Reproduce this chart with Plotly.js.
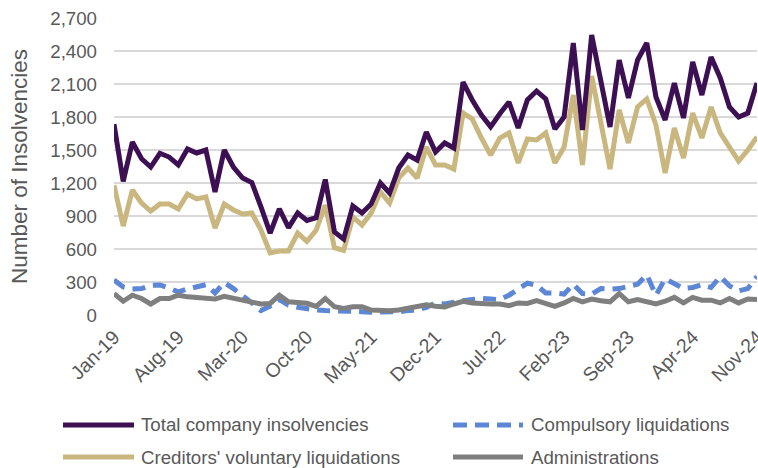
<!DOCTYPE html>
<html>
<head>
<meta charset="utf-8">
<script src="https://cdn.plot.ly/plotly-3.0.1.min.js"></script>
<style>html,body{margin:0;padding:0;background:#fff;}#chart{width:758px;height:468px;}</style>
</head>
<body>
<div id="chart"></div>
<script>
const months = ["Jan","Feb","Mar","Apr","May","Jun","Jul","Aug","Sep","Oct","Nov","Dec"];
const categories = [];
for (let y = 19; y <= 24; y++) { for (let m = 0; m < 12; m++) { categories.push(months[m] + "-" + y); } }
categories.length = 71; // Jan-19 .. Nov-24

const tickLabels = ["Jan-19","Aug-19","Mar-20","Oct-20","May-21","Dec-21","Jul-22","Feb-23","Sep-23","Apr-24","Nov-24"];

const totalInsolvencies = [1735,1215,1573,1420,1345,1470,1436,1364,1509,1473,1500,1118,1500,1345,1245,1205,982,745,964,795,927,860,885,1232,755,690,991,927,1010,1200,1109,1336,1455,1409,1664,1482,1564,1518,2118,1955,1818,1710,1830,1936,1700,1955,2036,1964,1690,1800,2473,1682,2545,2136,1709,2318,1973,2318,2473,1982,1773,2109,1791,2300,2000,2345,2155,1891,1800,1836,2109];

const compulsoryLiquidations = [318,255,236,240,270,273,245,210,236,255,275,200,295,240,180,110,40,80,140,90,70,55,45,40,40,35,35,30,25,25,30,30,40,45,70,110,100,120,130,140,150,145,140,180,240,290,270,200,200,190,280,195,190,240,235,240,260,280,365,180,330,280,240,250,275,250,350,265,220,240,350];

const creditorsVoluntary = [1180,809,1136,1018,945,1009,1009,964,1100,1055,1073,791,1009,955,918,927,773,564,582,582,745,670,770,1000,612,588,891,818,927,1118,1018,1245,1336,1245,1527,1364,1364,1327,1836,1782,1609,1455,1609,1655,1382,1600,1591,1655,1382,1527,2000,1364,2173,1745,1327,1864,1564,1891,1964,1727,1291,1700,1427,1836,1609,1891,1655,1527,1400,1500,1618];

const administrations = [195,125,180,150,100,150,150,180,165,160,155,145,170,150,130,120,100,105,180,120,112,106,78,150,75,60,75,76,45,38,38,45,60,85,92,80,72,100,125,110,100,100,100,85,110,105,130,105,78,110,150,120,145,130,120,195,120,140,125,100,125,160,110,160,135,135,110,150,110,145,140];

const yTicks = [0,300,600,900,1200,1500,1800,2100,2400,2700];

const seriesNames = ["Total company insolvencies","Compulsory liquidations","Creditors' voluntary liquidations","Administrations"];
const seriesColors = ["#3c1053","#5b87d6","#c9b77f","#7f7f7f"];
const seriesDash = ["solid","13px,8px","solid","solid"];

const W = 758, H = 468;
const M = {l: 114, r: 1, t: 18, b: 153};
const pw = W - M.l - M.r, ph = H - M.t - M.b;
const px2x = p => (p - M.l) / pw;
const py2y = p => (H - M.b - p) / ph;

const lw = 5;
const mk = (i, yv) => ({x: categories, y: yv, name: seriesNames[i], type: "scatter", mode: "lines",
  line: {color: seriesColors[i], width: lw, dash: seriesDash[i]}, showlegend: false, hoverinfo: "skip"});
const traces = [
  mk(1, compulsoryLiquidations),
  mk(3, administrations),
  mk(2, creditorsVoluntary),
  mk(0, totalInsolvencies)
];

// custom legend (2 x 2 grid) in paper coordinates
const legendRows = [425, 457];
const legendCols = [{s0: 63, s1: 134, t: 139}, {s0: 453, s1: 523, t: 529}];
const shapes = [], annotations = [];
seriesNames.forEach((name, i) => {
  const r = Math.floor(i / 2), c = i % 2;
  const yy = py2y(legendRows[r]);
  shapes.push({type: "line", xref: "paper", yref: "paper",
    x0: px2x(legendCols[c].s0), x1: px2x(legendCols[c].s1), y0: yy, y1: yy,
    line: {color: seriesColors[i], width: 5, dash: i === 1 ? "14px,8px" : "solid"}});
  annotations.push({xref: "paper", yref: "paper", x: px2x(legendCols[c].t), y: yy,
    xanchor: "left", yanchor: "middle", showarrow: false, text: name,
    font: {size: 18.7, color: "#595959"}});
});

const layout = {
  width: W, height: H,
  margin: M,
  paper_bgcolor: "#ffffff", plot_bgcolor: "#ffffff",
  font: {family: "Liberation Sans, Arial, sans-serif", color: "#595959", size: 18.7},
  showlegend: false,
  shapes: shapes, annotations: annotations,
  xaxis: {
    type: "category", categoryorder: "array", categoryarray: categories,
    range: [0, 70], tickmode: "array", tickvals: tickLabels, ticktext: tickLabels,
    tickangle: -45, showgrid: false, zeroline: false, showline: false, ticks: "",
    ticklabelstandoff: 6,
    tickfont: {size: 19.5, color: "#595959"}, fixedrange: true
  },
  yaxis: {
    range: [0, 2700], tickmode: "array", tickvals: yTicks,
    ticktext: yTicks.map(v => v.toLocaleString("en-US")),
    showgrid: true, gridcolor: "#d9d9d9", gridwidth: 1.5, zeroline: false, showline: false,
    ticks: "", ticklabelstandoff: 16,
    tickfont: {size: 18.7, color: "#595959"},
    title: {text: "Number of Insolvencies", font: {size: 22.5, color: "#595959"}, standoff: 16},
    fixedrange: true
  }
};

Plotly.newPlot("chart", traces, layout, {displayModeBar: false, staticPlot: true});
</script>
</body>
</html>
